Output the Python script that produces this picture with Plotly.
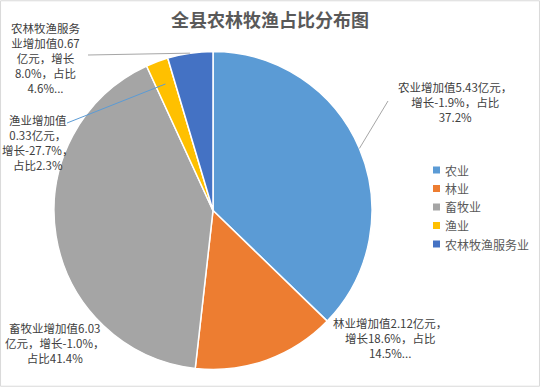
import math
import plotly.graph_objects as go

categories = ["农业", "林业", "畜牧业", "渔业", "农林牧渔服务业"]
values = [5.43, 2.12, 6.03, 0.33, 0.67]
growth = ["-1.9%", "18.6%", "-1.0%", "-27.7%", "8.0%"]
shares = ["37.2%", "14.5%", "41.4%", "2.3%", "4.6%"]
colors = ["#5B9BD5", "#ED7D31", "#A5A5A5", "#FFC000", "#4472C4"]

W, H = 540, 387
CX, CY, R = 213, 210.5, 159

label_texts = [
    "农业增加值5.43亿元，<br>增长-1.9%，占比<br>37.2%",
    "林业增加值2.12亿元，<br>增长18.6%，占比<br>14.5%...",
    "畜牧业增加值6.03<br>亿元，增长-1.0%，<br>占比41.4%",
    "渔业增加值<br>0.33亿元，<br>增长-27.7%，<br>占比2.3%",
    "农林牧渔服务<br>业增加值0.67<br>亿元，增长<br>8.0%，占比<br>4.6%...",
]
label_pos = [(455, 102), (390, 338), (55, 343), (37, 142), (45, 58)]
# leader line anchor (px) on label side and radial fraction of endpoint; None = no line
leader = [((388, 101), 1.0), None, None, ((67, 123), 0.85), ((88, 55), 1.0)]

fig = go.Figure()
fig.add_trace(go.Pie(
    labels=categories, values=values, sort=False, direction="clockwise", rotation=0,
    marker=dict(colors=colors, line=dict(color="white", width=1.5)),
    textinfo="none", hoverinfo="label+value+percent", showlegend=False,
    domain=dict(x=[(CX - R) / W, (CX + R) / W], y=[1 - (CY + R) / H, 1 - (CY - R) / H]),
))

def px(x, y):
    return x / W, 1 - y / H

total = sum(values)
cum = 0.0
shapes = [dict(type="rect", xref="paper", yref="paper", x0=0.001, y0=0.002, x1=0.999, y1=0.998,
               line=dict(color="#D9D9D9", width=1))]
annotations = []
for i, v in enumerate(values):
    mid = (cum + v / 2) / total
    cum += v
    ang = 2 * math.pi * mid
    if leader[i] is not None:
        (lx, ly), f = leader[i]
        ex = CX + R * f * math.sin(ang)
        ey = CY - R * f * math.cos(ang)
        x0, y0 = px(lx, ly)
        x1, y1 = px(ex, ey)
        lc = "#5B9BD5" if i == 3 else "#A6A6A6"
        shapes.append(dict(type="line", xref="paper", yref="paper", x0=x0, y0=y0, x1=x1, y1=y1,
                           line=dict(color=lc, width=1)))
    ax, ay = px(*label_pos[i])
    annotations.append(dict(x=ax, y=ay, xref="paper", yref="paper", text=label_texts[i],
                            showarrow=False, align="center", xanchor="center", yanchor="middle",
                            font=dict(size=11.5, color="#404040", family="Noto Sans CJK SC")))

# custom legend
LX, LY0, LDY, SQ = 433, 170, 18.5, 7
for i, (cat, col) in enumerate(zip(categories, colors)):
    yc = LY0 + i * LDY
    x0, y0 = px(LX, yc + SQ / 2)
    x1, y1 = px(LX + SQ, yc - SQ / 2)
    shapes.append(dict(type="rect", xref="paper", yref="paper", x0=x0, y0=y0, x1=x1, y1=y1,
                       fillcolor=col, line=dict(width=0)))
    tx, ty = px(LX + SQ + 3, yc)
    annotations.append(dict(x=tx, y=ty, xref="paper", yref="paper", text=cat, showarrow=False,
                            xanchor="left", yanchor="middle",
                            font=dict(size=12, color="#595959", family="Noto Sans CJK SC")))

fig.update_layout(
    width=W, height=H, margin=dict(l=0, r=0, t=0, b=0, autoexpand=False),
    paper_bgcolor="white", plot_bgcolor="white", showlegend=False,
    title=dict(text="<b>全县农林牧渔占比分布图</b>", x=0.5, xanchor="center", y=1 - 21 / H, yanchor="middle",
               font=dict(size=18, color="#595959", family="Noto Sans CJK SC")),
    shapes=shapes, annotations=annotations,
)

fig.write_html("out.html", config={"displayModeBar": False},
               post_script="document.body.style.margin='0';document.body.style.overflow='hidden';")
